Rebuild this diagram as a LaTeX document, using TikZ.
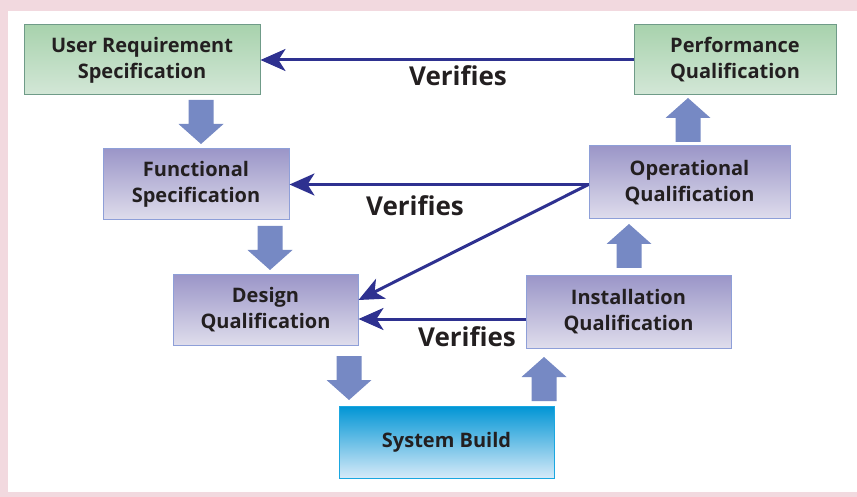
\documentclass[tikz,border=0pt]{standalone}
\usepackage{fontspec}
\setmainfont{Open Sans}
\usetikzlibrary{arrows.meta}

\definecolor{pagepink}{HTML}{F2D9DF}
\definecolor{inkdark}{HTML}{231F20}
\definecolor{greentop}{HTML}{A8D2AD}
\definecolor{greenbot}{HTML}{D3E7D7}
\definecolor{greenedge}{HTML}{6F9B88}
\definecolor{violettop}{HTML}{9B96C8}
\definecolor{violetbot}{HTML}{DFDDEC}
\definecolor{violetedge}{HTML}{8E9FD8}
\definecolor{cyantop}{HTML}{0095D5}
\definecolor{cyanbot}{HTML}{D6EAF8}
\definecolor{cyanedge}{HTML}{1AA7E0}
\definecolor{fatblue}{HTML}{7689C4}
\definecolor{linkblue}{HTML}{2E3190}

\begin{document}
\begin{tikzpicture}
[x=1pt,y=-1pt,%
  box/.style={rectangle,inner sep=0pt,line width=1pt,align=center,text=inkdark,%
    font=\bfseries\fontsize{20}{26}\selectfont},%
  reqbox/.style={box,draw=greenedge,top color=greentop,bottom color=greenbot},%
  qualbox/.style={box,draw=violetedge,top color=violettop,bottom color=violetbot},%
  buildbox/.style={box,draw=cyanedge,top color=cyantop,bottom color=cyanbot},%
  verify/.style={line width=3pt,draw=linkblue,%
    -{Stealth[length=25pt,width=22pt,inset=7pt]}},%
  verlabel/.style={text=inkdark,font=\bfseries\fontsize{26}{30}\selectfont},%
  fatup/.pic={\fill[fatblue] (-12.5,22) -- (12.5,22) -- (12.5,-2) -- (22.5,-2)
    -- (0,-22) -- (-22.5,-2) -- (-12.5,-2) -- cycle;}]
\fill[pagepink] (0,0) rectangle (857,497);
\fill[white] (8,11) rectangle (857,492);
\useasboundingbox (0,0) rectangle (857,497);

\node[reqbox,minimum width=236pt,minimum height=70pt] (urs) at (142,60)
  {User Requirement\\Specification};
\node[reqbox,minimum width=202pt,minimum height=70pt] (pq) at (735,60)
  {Performance\\Qualification};
\node[qualbox,minimum width=186pt,minimum height=71pt] (fs) at (196,184.5)
  {Functional\\Specification};
\node[qualbox,minimum width=201pt,minimum height=73pt] (oq) at (689.5,182.5)
  {Operational\\Qualification};
\node[qualbox,minimum width=185pt,minimum height=70pt] (dq) at (265.5,310)
  {Design\\Qualification};
\node[qualbox,minimum width=205pt,minimum height=72pt] (iq) at (628.5,312)
  {Installation\\Qualification};
\node[buildbox,minimum width=215pt,minimum height=72pt] (sb) at (446.5,442)
  {System Build};

\pic[rotate=180] at (201,122) {fatup};
\pic[rotate=180] at (270,248) {fatup};
\pic[rotate=180] at (349,378) {fatup};
\pic at (544,379) {fatup};
\pic at (629,246) {fatup};
\pic at (688,120) {fatup};

\draw[verify] (pq.west) -- (urs.east);
\draw[verify] ([yshift=-2pt]oq.west) -- ([yshift=-2pt]oq.west -| fs.east);
\draw[verify] ([yshift=-13pt]oq.north west) ++(0,26) coordinate (oqd)
  (oqd) -- ([yshift=10pt]dq.east);
\draw[verify] ([yshift=-7pt]iq.west) -- ([yshift=-7pt]iq.west -| dq.east);

\node[verlabel] (v1) at (458,76) {Verifies};
\node[verlabel] (v2) at (415,206) {Verifies};
\node[verlabel] (v3) at (467,337) {Verifies};
\end{tikzpicture}
\end{document}
